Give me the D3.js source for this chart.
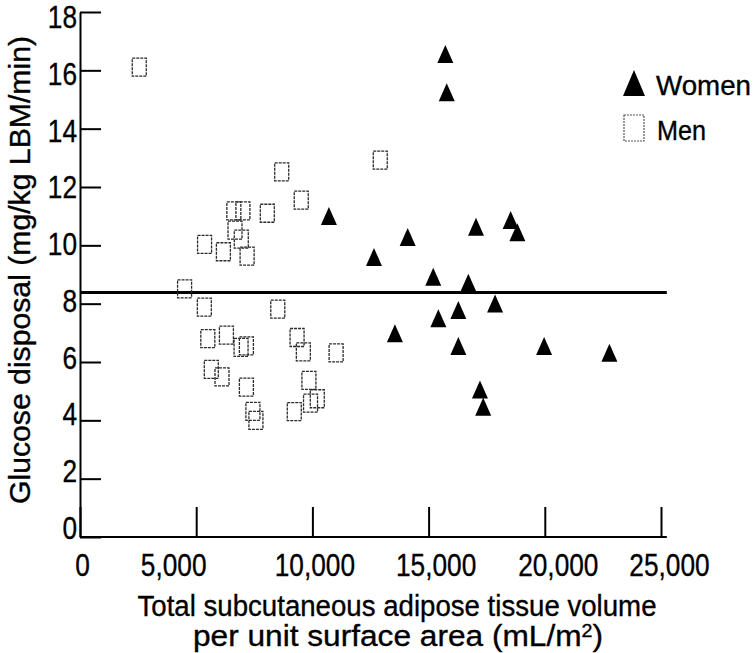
<!DOCTYPE html>
<html>
<head>
<meta charset="utf-8">
<script src="https://cdn.jsdelivr.net/npm/d3@7"></script>
<style>
  html, body { margin: 0; padding: 0; background: #fff; }
  svg { display: block; }
  text { font-family: 'Liberation Sans', Arial, Helvetica, sans-serif; fill: #000; }
</style>
</head>
<body>
<svg id="chart" width="755" height="653"></svg>
<script>
// ---- data ----
const womenX = [15720, 15780, 10710, 17040, 18530, 18820, 14100, 12650, 15200, 16710, 16280, 17860, 15420, 13550, 16280, 19970, 22780, 17210, 17350];
const womenY = [16.56, 15.25, 11.01, 10.64, 10.87, 10.45, 10.29, 9.60, 8.92, 8.72, 7.78, 8.01, 7.50, 6.99, 6.55, 6.55, 6.32, 5.06, 4.47];
const menX = [2550, 12920, 8680, 9520, 6620, 7010, 8060, 6670, 6940, 7190, 5360, 6170, 4500, 5350, 8510, 5500, 6300, 6930, 7160, 9340, 9610, 11020, 5650, 6110, 7160, 9850, 10210, 9920, 9220, 7440, 7570];
const menY = [16.11, 12.92, 12.52, 11.55, 11.18, 11.18, 11.10, 10.52, 10.21, 9.63, 10.03, 9.78, 8.51, 7.88, 7.81, 6.80, 6.92, 6.50, 6.55, 6.84, 6.35, 6.31, 5.75, 5.49, 5.14, 5.37, 4.74, 4.59, 4.30, 4.31, 4.00];
const referenceLine = 8.38;
const xTicks = [0, 5000, 10000, 15000, 20000, 25000];
const yTicks = [0, 2, 4, 6, 8, 10, 12, 14, 16, 18];
const legendLabels = ["Women", "Men"];
const yTitle = "Glucose disposal (mg/kg LBM/min)";
const xTitle1 = "Total subcutaneous adipose tissue volume";
const xTitle2 = "per unit surface area (mL/m";

// ---- layout ----
const svg = d3.select("#chart");
const x = d3.scaleLinear().domain([0, 25000]).range([80, 661]);
const y = d3.scaleLinear().domain([0, 18]).range([537, 12]);
const xLabelNudge = {0: 2, 5000: -23, 10000: 2, 15000: 7, 20000: 13, 25000: 8};
const yLabelShift = v => -9 + 0.8 * v;   // hand-lettered labels drift from the ticks

function squeeze(sel, factor, target) {
  sel.each(function () {
    const w = this.getComputedTextLength();
    d3.select(this).attr("textLength", target ? target : w * factor).attr("lengthAdjust", "spacingAndGlyphs");
  });
}
const heavy = sel => sel.attr("stroke", "#000").attr("stroke-width", 0.35);

// y axis
const yAx = svg.append("g").attr("transform", `translate(${x(0)},0)`)
  .call(d3.axisLeft(y).tickValues(yTicks).tickSizeInner(-21).tickSizeOuter(0).tickPadding(3).tickFormat(d3.format("d")));
yAx.selectAll("path, line").attr("stroke", "#000").attr("stroke-width", 2);
yAx.selectAll(".tick text").attr("font-size", 32).attr("dy", "0.32em")
  .attr("y", d => yLabelShift(d))
  .style("font-family", "'Liberation Sans',Arial,sans-serif");
squeeze(yAx.selectAll(".tick text"), 0.82);
heavy(yAx.selectAll(".tick text"));

// x axis
const xAx = svg.append("g").attr("transform", `translate(0,${y(0)})`)
  .call(d3.axisBottom(x).tickValues(xTicks).tickSizeInner(-30).tickSizeOuter(0).tickPadding(16).tickFormat(d3.format(",")));
xAx.select(".domain").remove();
xAx.append("line").attr("x1", x(0)).attr("x2", x(25250)).attr("y1", 0).attr("y2", 0)
  .attr("stroke", "#000").attr("stroke-width", 2);
xAx.selectAll("line").attr("stroke", "#000").attr("stroke-width", 2);
xAx.selectAll(".tick text").attr("font-size", 32)
  .attr("dx", d => xLabelNudge[d] || 0)
  .style("font-family", "'Liberation Sans',Arial,sans-serif");
squeeze(xAx.selectAll(".tick text"), 0.82);
heavy(xAx.selectAll(".tick text"));

// reference line
svg.append("line")
  .attr("x1", x(0)).attr("x2", x(25250))
  .attr("y1", y(referenceLine)).attr("y2", y(referenceLine))
  .attr("stroke", "#000").attr("stroke-width", 3);

// men squares
const sqW = 14, sqH = 18;
svg.append("g").selectAll("rect").data(menX.map((v, i) => [v, menY[i]])).join("rect")
  .attr("x", d => x(d[0]) - sqW / 2).attr("y", d => y(d[1]) - sqH / 2)
  .attr("width", sqW).attr("height", sqH)
  .attr("fill", "none").attr("stroke", "#2a2a2a").attr("stroke-width", 1.3)
  .attr("stroke-dasharray", "3,1");

// women triangles
const triW = 16, triH = 18;
const tri = (cx, cy, w, h) => `M${cx},${cy - h / 2}L${cx + w / 2},${cy + h / 2}L${cx - w / 2},${cy + h / 2}Z`;
svg.append("g").selectAll("path").data(womenX.map((v, i) => [v, womenY[i]])).join("path")
  .attr("d", d => tri(x(d[0]), y(d[1]), triW, triH))
  .attr("fill", "#000");

// legend
const lg = svg.append("g");
lg.append("path").attr("d", tri(634, 83, 22, 26)).attr("fill", "#000");
lg.append("rect").attr("x", 624).attr("y", 115).attr("width", 20).attr("height", 26)
  .attr("fill", "none").attr("stroke", "#555").attr("stroke-width", 1.2).attr("stroke-dasharray", "2,1");
const lw = lg.append("text").attr("x", 656).attr("y", 95).attr("font-size", 28).text(legendLabels[0]);
const lm = lg.append("text").attr("x", 657).attr("y", 140).attr("font-size", 28).text(legendLabels[1]);
squeeze(lw, 1, 95);
squeeze(lm, 1, 49);
heavy(lw); heavy(lm);

// y title
const yt = svg.append("text")
  .attr("transform", "translate(30,270) rotate(-90)")
  .attr("text-anchor", "middle").attr("font-size", 30)
  .text(yTitle);
squeeze(yt, 1, 468);
heavy(yt);

// x title
const xt1 = svg.append("text").attr("x", 397).attr("y", 616).attr("text-anchor", "middle").attr("font-size", 29)
  .text(xTitle1);
squeeze(xt1, 1, 519);
heavy(xt1);
const t2 = svg.append("text").attr("x", 398).attr("y", 646).attr("text-anchor", "middle").attr("font-size", 29);
t2.append("tspan").text(xTitle2);
t2.append("tspan").attr("font-size", 18).attr("dy", -9).text("2");
t2.append("tspan").attr("dy", 9).text(")");
squeeze(t2, 1, 410);
heavy(t2);
</script>
</body>
</html>
